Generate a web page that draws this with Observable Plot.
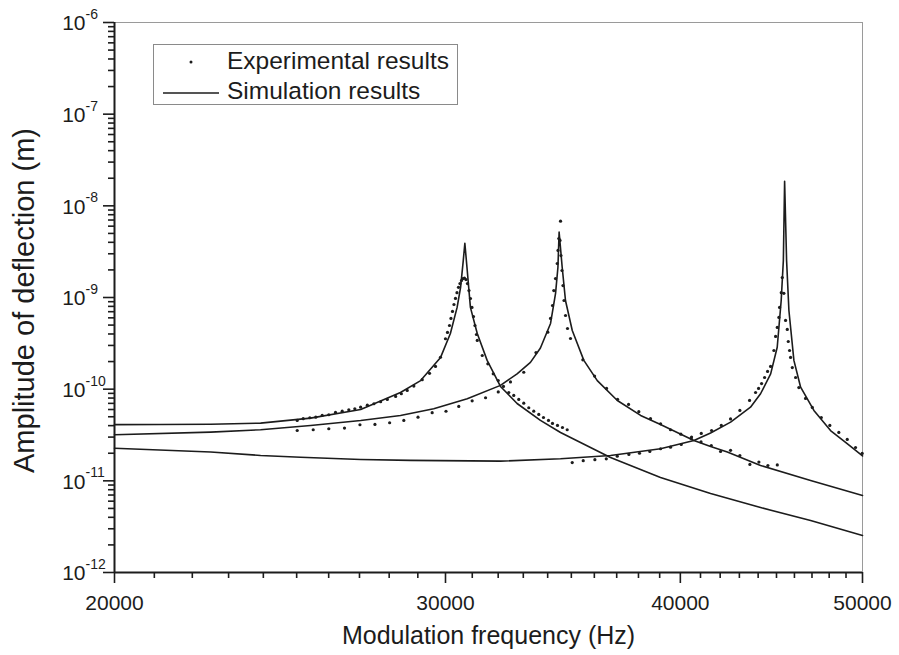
<!DOCTYPE html>
<html>
<head>
<meta charset="utf-8">
<script src="https://cdn.jsdelivr.net/npm/d3@7"></script>
<script src="https://cdn.jsdelivr.net/npm/@observablehq/plot@0.6"></script>
<style>
  html, body { margin: 0; padding: 0; background: #fff; }
  #chart { position: relative; width: 899px; height: 655px; }
</style>
</head>
<body>
<div id="chart"></div>
<script>
// ---- Simulation results: [frequency (Hz), amplitude (m)] ----
const simModeA = [[20000,4.10e-11],[21160,4.11e-11],[22500,4.14e-11],[23920,4.26e-11],[25430,4.83e-11],[27040,6.00e-11],[28390,9.20e-11],[29100,1.24e-10],[29820,2.22e-10],[30180,4.05e-10],[30430,7.80e-10],[30560,1.29e-9],[30660,2.53e-9],[30720,3.91e-9],[30810,1.97e-9],[30930,7.80e-10],[31190,4.05e-10],[31570,2.06e-10],[32090,1.07e-10],[32750,6.98e-11],[33700,4.56e-11],[34540,3.37e-11],[36720,1.80e-11],[39040,1.09e-11],[41510,7.27e-12],[44130,5.11e-12],[46920,3.69e-12],[50000,2.53e-12]];
const simModeB = [[20000,3.18e-11],[22500,3.40e-11],[23920,3.61e-11],[25430,4.02e-11],[27040,4.56e-11],[28390,5.17e-11],[29570,6.11e-11],[30810,7.86e-11],[32090,1.10e-10],[32750,1.47e-10],[33290,1.96e-10],[33700,2.81e-10],[34120,5.21e-10],[34330,1.11e-9],[34430,2.14e-9],[34480,5.16e-9],[34610,2.14e-9],[34750,9.27e-10],[35040,4.37e-10],[35540,2.06e-10],[36130,1.24e-10],[37030,7.53e-11],[38100,5.17e-11],[39040,4.12e-11],[40670,2.76e-11],[41510,2.37e-11],[42370,2.06e-11],[44130,1.47e-11],[46920,1.01e-11],[50000,6.91e-12]];
const simModeC = [[20000,2.27e-11],[22500,2.06e-11],[23920,1.89e-11],[25120,1.81e-11],[27040,1.71e-11],[28740,1.67e-11],[32090,1.64e-11],[34540,1.74e-11],[36720,1.89e-11],[39040,2.24e-11],[40670,2.76e-11],[41510,3.33e-11],[42540,4.37e-11],[43590,6.36e-11],[44130,8.91e-11],[44680,1.47e-10],[45040,2.87e-10],[45260,9.27e-10],[45380,2.53e-9],[45450,1.85e-8],[45560,2.53e-9],[45690,7.21e-10],[45970,2.06e-10],[46350,1.05e-10],[47110,5.86e-11],[48080,3.54e-11],[49070,2.54e-11],[50000,1.87e-11]];

// ---- Experimental results: [frequency (Hz), amplitude (m)] ----
const expModeA = [[25017,4.56e-11],[25201,4.76e-11],[25406,4.88e-11],[25593,4.95e-11],[25795,5.17e-11],[26004,5.26e-11],[26218,5.57e-11],[26434,5.75e-11],[26649,5.96e-11],[26846,6.11e-11],[27038,6.36e-11],[27261,6.69e-11],[27482,6.93e-11],[27709,7.29e-11],[27937,7.72e-11],[28222,8.33e-11],[28420,8.91e-11],[28626,9.68e-11],[28859,1.08e-10],[29157,1.27e-10],[29419,1.49e-10],[29635,1.77e-10],[29816,2.23e-10],[29999,3.55e-10],[30073,4.16e-10],[30147,4.95e-10],[30202,5.91e-10],[30258,7.04e-10],[30313,8.39e-10],[30369,9.76e-10],[30425,1.13e-9],[30481,1.29e-9],[30537,1.42e-9],[30593,1.53e-9],[30649,1.61e-9],[30705,1.63e-9],[30762,1.57e-9],[30818,1.42e-9],[30875,1.19e-9],[30932,9.75e-10],[30989,7.80e-10],[31046,6.20e-10],[31103,4.95e-10],[31160,3.95e-10],[31190,3.40e-10],[31381,2.33e-10],[31598,1.89e-10],[31807,1.47e-10],[32003,1.24e-10],[32208,1.07e-10],[32418,9.20e-11],[32617,8.54e-11],[32817,7.72e-11],[33019,7.04e-11],[33222,6.27e-11],[33426,5.75e-11],[33632,5.30e-11],[33826,4.91e-11],[34034,4.56e-11],[34201,4.23e-11],[34411,4.02e-11],[34622,3.82e-11],[34823,3.61e-11]];
const expModeB = [[25017,3.54e-11],[25512,3.61e-11],[26004,3.70e-11],[26509,3.76e-11],[27015,4.09e-11],[27516,4.12e-11],[28016,4.30e-11],[28507,4.56e-11],[29007,4.95e-11],[29514,5.54e-11],[30018,5.74e-11],[30492,6.48e-11],[30996,7.47e-11],[31509,8.06e-11],[32003,9.32e-11],[32485,1.20e-10],[33019,1.53e-10],[33517,2.51e-10],[34005,4.19e-10],[34118,5.91e-10],[34201,8.18e-10],[34256,1.19e-9],[34328,1.61e-9],[34400,2.35e-9],[34433,3.26e-9],[34467,4.40e-9],[34540,6.80e-9],[34518,4.19e-9],[34559,2.87e-9],[34602,1.97e-9],[34644,1.35e-9],[34687,9.27e-10],[34752,6.36e-10],[34836,4.59e-10],[34965,3.57e-10],[35497,2.09e-10],[36011,1.39e-10],[36544,1.02e-10],[37040,7.76e-11],[37542,6.81e-11],[38017,5.68e-11],[38565,4.76e-11],[39042,4.19e-11],[39523,3.61e-11],[40025,3.23e-11],[40529,2.91e-11],[41028,2.66e-11],[41546,2.43e-11],[42021,2.09e-11],[42538,2.15e-11],[43026,1.89e-11],[43557,1.51e-11],[44040,1.60e-11],[44529,1.47e-11],[45044,1.49e-11]];
const expModeC = [[35038,1.58e-11],[35514,1.66e-11],[36024,1.70e-11],[36531,1.74e-11],[37026,1.86e-11],[37556,1.94e-11],[38049,2.00e-11],[38533,2.09e-11],[39042,2.24e-11],[39523,2.33e-11],[40045,2.49e-11],[40553,3.00e-11],[41039,3.29e-11],[41561,3.54e-11],[42058,4.02e-11],[42538,4.73e-11],[43026,5.86e-11],[43541,7.53e-11],[43862,9.20e-11],[44024,1.02e-10],[44186,1.15e-10],[44349,1.34e-10],[44512,1.56e-10],[44676,1.77e-10],[44857,2.64e-10],[44951,3.76e-10],[45044,4.71e-10],[45132,6.06e-10],[45171,7.80e-10],[45264,1.13e-9],[45320,1.65e-9],[45409,1.11e-9],[45504,5.62e-10],[45599,4.48e-10],[45654,3.31e-10],[45727,2.64e-10],[45783,2.22e-10],[45880,1.72e-10],[46066,1.34e-10],[46250,1.04e-10],[46631,7.92e-11],[47018,6.32e-11],[47539,4.91e-11],[48039,4.02e-11],[48571,3.37e-11],[49074,2.83e-11],[49576,2.31e-11],[49980,1.99e-11]];

// ---- Axis ticks and labels ----
const xMajorTicks = [20000, 30000, 40000, 50000];
const yMajorTicks = [1e-12, 1e-11, 1e-10, 1e-9, 1e-8, 1e-7, 1e-6];
const yTickExponents = ["-12", "-11", "-10", "-9", "-8", "-7", "-6"];
const xTitle = "Modulation frequency (Hz)";
const yTitle = "Amplitude of deflection (m)";
const legendLabels = ["Experimental results", "Simulation results"];

const xMinorTicks = d3.range(21000, 50000, 1000).filter(d => !xMajorTicks.includes(d));
const yMinorTicks = [];
for (let k = -12; k < -6; k++) for (let m = 2; m <= 9; m++) yMinorTicks.push(m * Math.pow(10, k));

const experimental = [...expModeA, ...expModeB, ...expModeC];
const ink = "#1c1c1c";
const font = "'Liberation Sans', Arial, sans-serif";

const chart = Plot.plot({
  width: 899,
  height: 655,
  marginLeft: 114,
  marginRight: 37,
  marginTop: 22,
  marginBottom: 83,
  style: { fontFamily: font, background: "#fff", color: ink, overflow: "visible" },
  x: { type: "log", domain: [20000, 50000] },
  y: { type: "log", domain: [1e-12, 1e-6] },
  marks: [
    Plot.ruleY([1e-6], { stroke: "#9a9a9a", strokeWidth: 1 }),
    Plot.ruleX([50000], { stroke: "#9a9a9a", strokeWidth: 1 }),
    Plot.axisX(xMinorTicks, { tickSize: 6, tickFormat: () => "", label: null, stroke: ink, strokeWidth: 1.6 }),
    Plot.axisX(xMajorTicks, { tickSize: 11, tickPadding: 12, tickFormat: d => String(d), label: null, fontSize: 21, stroke: ink, strokeWidth: 1.6, fill: ink }),
    Plot.axisY(yMinorTicks, { tickSize: 6, tickFormat: () => "", label: null, stroke: ink, strokeWidth: 1.6 }),
    Plot.axisY(yMajorTicks, { tickSize: 11, tickFormat: () => "", label: null, stroke: ink, strokeWidth: 1.6 }),
    Plot.text(yMajorTicks, { y: d => d, frameAnchor: "left", text: () => "10", textAnchor: "end", dx: -29, dy: 1, fontSize: 21, fill: ink }),
    Plot.text(yMajorTicks, { y: d => d, frameAnchor: "left", text: (d, i) => yTickExponents[i], textAnchor: "start", dx: -29, dy: -8, fontSize: 14, fill: ink }),
    Plot.ruleY([1e-12], { stroke: ink, strokeWidth: 2 }),
    Plot.ruleX([20000], { stroke: ink, strokeWidth: 2 }),
    Plot.line(simModeA, { x: d => d[0], y: d => d[1], stroke: ink, strokeWidth: 1.6 }),
    Plot.line(simModeB, { x: d => d[0], y: d => d[1], stroke: ink, strokeWidth: 1.6 }),
    Plot.line(simModeC, { x: d => d[0], y: d => d[1], stroke: ink, strokeWidth: 1.6 }),
    Plot.dot(experimental, { x: d => d[0], y: d => d[1], r: 1.6, fill: ink, stroke: null }),
    Plot.text([xTitle], { frameAnchor: "bottom", textAnchor: "middle", dy: 71, fontSize: 25, fill: ink }),
    Plot.text([yTitle], { frameAnchor: "left", textAnchor: "middle", rotate: -90, dx: -90, dy: 3, fontSize: 29, fill: ink })
  ]
});

// Legend (inside the plot frame, top-left)
const svg = d3.select(chart);
const lg = svg.append("g").attr("font-family", font).attr("fill", ink).attr("text-anchor", "start");
lg.append("rect").attr("x", 153.5).attr("y", 44.5).attr("width", 304).attr("height", 60)
  .attr("fill", "#fff").attr("stroke", "#8a8a8a").attr("stroke-width", 1);
lg.append("circle").attr("cx", 191).attr("cy", 62).attr("r", 1.5).attr("fill", ink);
lg.append("line").attr("x1", 163).attr("x2", 219).attr("y1", 93).attr("y2", 93)
  .attr("stroke", ink).attr("stroke-width", 1.4);
lg.append("text").attr("x", 227).attr("y", 69).attr("font-size", 24.5).attr("text-anchor", "start").text(legendLabels[0]);
lg.append("text").attr("x", 227).attr("y", 99).attr("font-size", 24.5).attr("text-anchor", "start").text(legendLabels[1]);

document.getElementById("chart").appendChild(chart);
</script>
</body>
</html>
